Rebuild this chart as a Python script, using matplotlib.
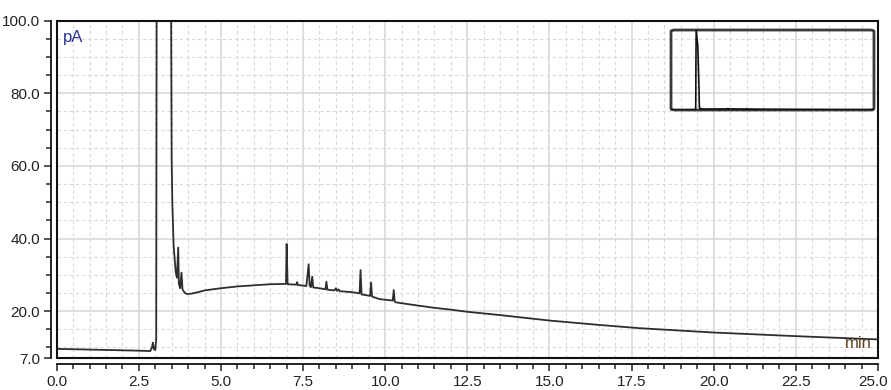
import matplotlib as mpl
mpl.use('Agg')
import matplotlib.pyplot as plt
from matplotlib.patches import Rectangle, FancyBboxPatch
from matplotlib.ticker import MultipleLocator, FixedLocator, FormatStrFormatter
from matplotlib.transforms import ScaledTranslation

plt.rcParams['font.family'] = ['Liberation Sans Narrow', 'Liberation Sans', 'DejaVu Sans']

# FID trace, retention time (min) vs signal (pA)
time_min = [
    0.00, 0.50, 1.00, 1.50, 2.00, 2.50, 2.85, 2.90, 2.93, 2.96, 3.00, 3.03,
    3.05, 3.07, 3.10, 3.30, 3.45, 3.48, 3.50, 3.52, 3.56, 3.62, 3.66, 3.70,
    3.72, 3.76, 3.80, 3.83, 3.90, 3.97, 4.10, 4.30, 4.50, 5.00, 5.50, 6.00,
    6.50, 6.98, 7.00, 7.03, 7.30, 7.32, 7.34, 7.60, 7.67, 7.70, 7.74, 7.78,
    7.81, 8.00, 8.18, 8.21, 8.24, 8.45, 8.50, 8.53, 8.58, 8.61, 9.00, 9.22,
    9.25, 9.28, 9.54, 9.57, 9.60, 9.83, 10.23, 10.26, 10.29, 10.33, 10.94,
    11.50, 12.00, 12.51, 13.50, 15.00, 16.50, 17.73, 20.00, 22.50, 25.00,
]
signal_pa = [
    9.6, 9.5, 9.4, 9.3, 9.2, 9.1, 9.0, 10.0, 11.3, 9.5, 9.3, 12.0,
    150.0, 900.0, 1500.0, 1200.0, 400.0, 110.0, 62.0, 50.0, 38.0, 31.0, 29.2, 37.5,
    27.5, 26.3, 30.6, 26.0, 25.0, 24.7, 24.8, 25.2, 25.7, 26.3, 26.8, 27.1,
    27.4, 27.5, 38.5, 27.4, 27.3, 28.0, 27.2, 26.9, 32.9, 27.0, 26.6, 29.5,
    26.5, 26.3, 26.0, 28.1, 25.9, 25.7, 26.3, 25.6, 26.0, 25.5, 25.2, 24.9,
    31.3, 24.6, 24.2, 27.9, 24.0, 23.3, 22.9, 25.8, 22.6, 22.4, 21.6,
    20.9, 20.4, 19.8, 18.9, 17.4, 16.2, 15.3, 14.1, 13.1, 12.2,
]

x_major = [0.0, 2.5, 5.0, 7.5, 10.0, 12.5, 15.0, 17.5, 20.0, 22.5, 25.0]
y_major = [7.0, 20.0, 40.0, 60.0, 80.0, 100.0]
y_minor = [10, 15, 25, 30, 35, 45, 50, 55, 65, 70, 75, 85, 90, 95]

trace_color = '#2e2e2e'

fig = plt.figure(figsize=(8.91, 3.90), dpi=100)
ax = fig.add_axes([0.0636, 0.0813, 0.9218, 0.8656])

ax.plot(time_min, signal_pa, color=trace_color, lw=1.3, zorder=3)
ax.set_xlim(0, 25)
ax.set_ylim(7, 100)

ax.xaxis.set_major_locator(FixedLocator(x_major))
ax.xaxis.set_minor_locator(MultipleLocator(0.5))
ax.yaxis.set_major_locator(FixedLocator(y_major))
ax.yaxis.set_minor_locator(FixedLocator(y_minor))
ax.xaxis.set_major_formatter(FormatStrFormatter('%.1f'))
ax.yaxis.set_major_formatter(FormatStrFormatter('%.1f'))

ax.grid(which='major', color='#d6d6d6', lw=1.1, ls='-')
ax.grid(which='minor', color='#d9d9d9', lw=0.8, ls=(0, (3, 2.5)))
ax.set_axisbelow(True)

for side in ('top', 'right'):
    ax.spines[side].set_visible(False)
for side in ('left', 'bottom'):
    ax.spines[side].set_position(('outward', 4))
    ax.spines[side].set_linewidth(1.3)
    ax.spines[side].set_color('#111111')

ax.tick_params(which='major', length=5, width=1.1, color='#222222',
               labelsize=11, labelcolor='#222222', pad=3)
ax.tick_params(which='minor', length=3.5, width=1.1, color='#222222')

# plot frame
ax.add_patch(Rectangle((0, 0), 1, 1, transform=ax.transAxes, fill=False,
                       ec='#111111', lw=1.5, clip_on=False, zorder=4))

ax.text(0.008, 0.95, 'pA', transform=ax.transAxes, fontsize=12,
        family=['Liberation Sans', 'DejaVu Sans'], color='#283593',
        ha='left', va='center')
ax.text(0.992, 0.045, 'min', transform=ax.transAxes, fontsize=12,
        family=['Liberation Sans', 'DejaVu Sans'], color='#5d4326',
        ha='right', va='center')

# overview of the whole run
inset = fig.add_axes([0.7531, 0.718, 0.2278, 0.205])
inset.patch.set_alpha(0)
inset.plot(time_min, signal_pa, color='#111111', lw=1.2)
inset.set_xlim(0, 25)
inset.set_ylim(min(signal_pa), max(signal_pa))
inset.set_xticks([])
inset.set_yticks([])
for s in inset.spines.values():
    s.set_visible(False)
inset.add_patch(FancyBboxPatch((0, 0), 1, 1, boxstyle='round,pad=0,rounding_size=0.02',
                               transform=inset.transAxes, fill=False,
                               ec='#3a3a3a', lw=2.0, clip_on=False))

# keep the last x label inside the canvas
fig.canvas.draw()
last = ax.get_xticklabels()[-1]
last.set_transform(last.get_transform() + ScaledTranslation(-0.05, 0, fig.dpi_scale_trans))

fig.savefig('out.png', dpi=100)
